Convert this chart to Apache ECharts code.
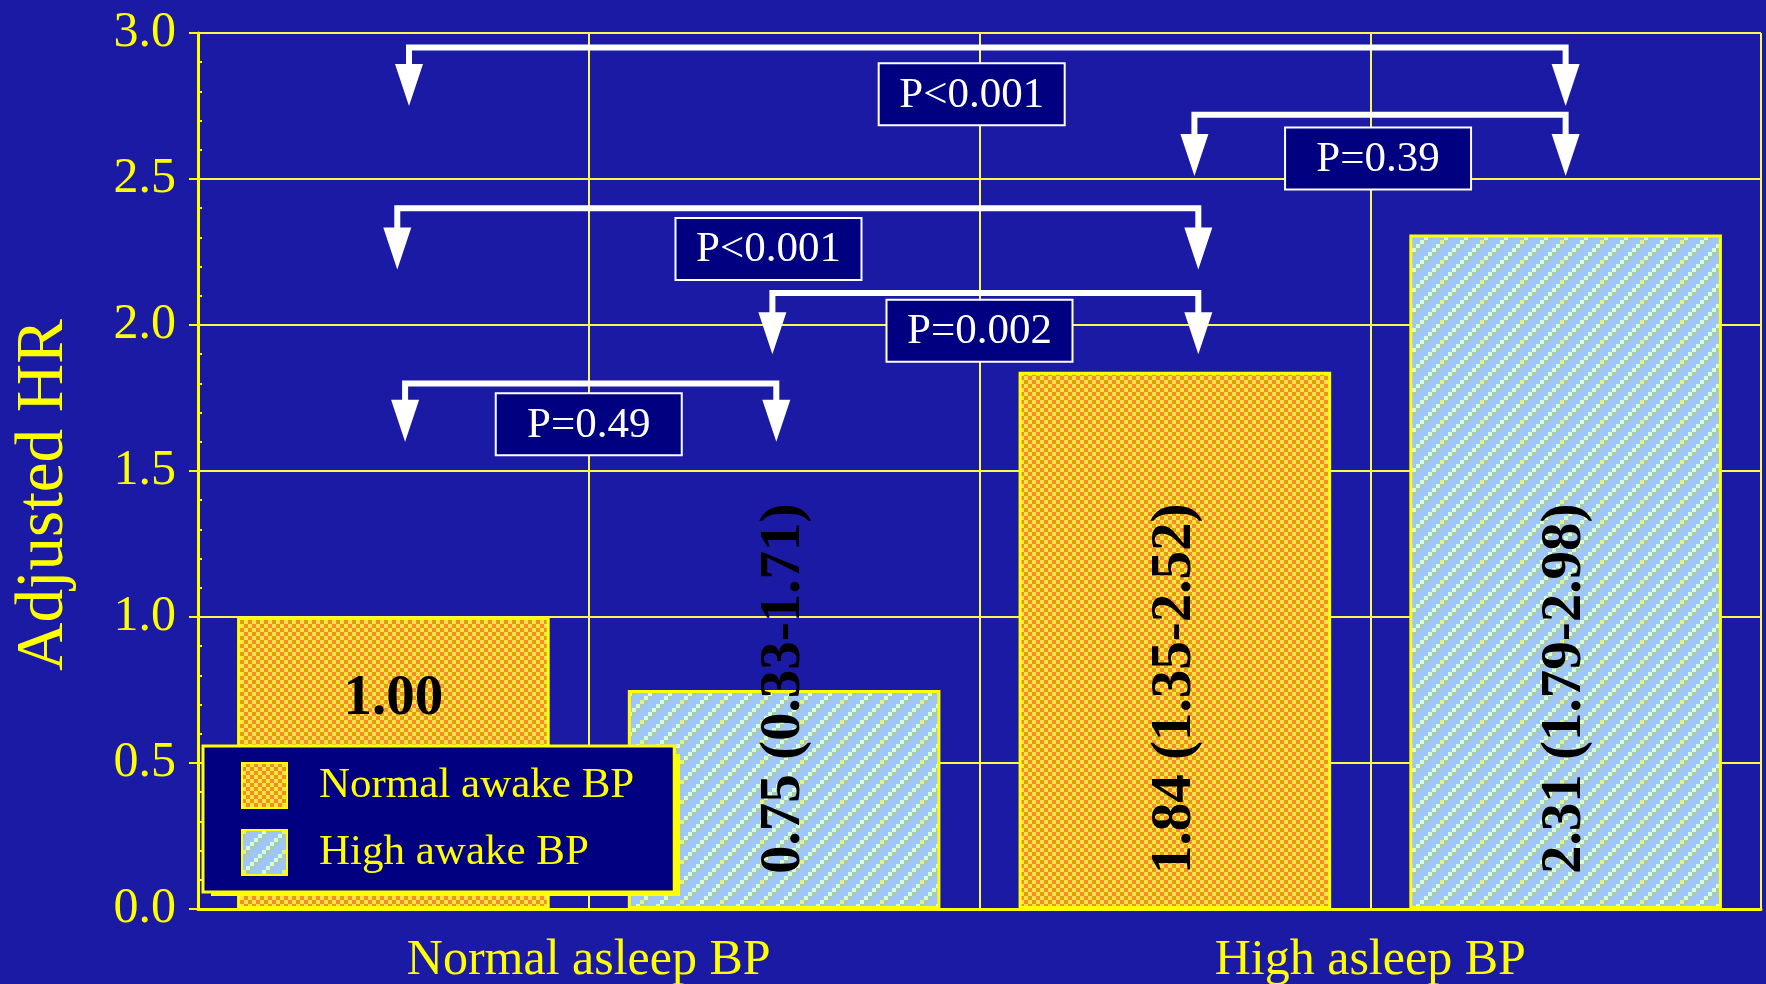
<!DOCTYPE html>
<html>
<head>
<meta charset="utf-8">
<title>Adjusted HR</title>
<script src="https://cdn.jsdelivr.net/npm/echarts@6/dist/echarts.min.js"></script>
<style>
  html, body { margin: 0; padding: 0; background: #1a1aa5; }
  #chart { width: 1766px; height: 984px; }
</style>
</head>
<body>
<div id="chart"></div>
<script>
// bar slots, left to right (asleep group / awake group)
const slots = ['Normal asleep, normal awake', 'Normal asleep, high awake', 'High asleep, normal awake', 'High asleep, high awake'];
const asleepGroups = ['Normal asleep BP', 'High asleep BP'];
const seriesNames = ['Normal awake BP', 'High awake BP'];
const normalAwakeHR = [1.00, '-', 1.84, '-'];
const highAwakeHR = ['-', 0.75, '-', 2.31];
const ciText = ['', '0.33-1.71', '1.35-2.52', '1.79-2.98'];

// comparison brackets: x on the 0..4 slot scale, y in HR units
const pText  = ['P<0.001', 'P=0.39', 'P<0.001', 'P=0.002', 'P=0.49'];
const pFromX = [0.54, 2.55, 0.51, 1.47, 0.53];
const pToX   = [3.50, 3.50, 2.56, 2.56, 1.48];
const pLineY = [2.95, 2.72, 2.40, 2.11, 1.80];
const pTipY  = [2.75, 2.51, 2.19, 1.90, 1.60];
const pBoxX  = [1.98, 3.02, 1.46, 2.00, 1.00];
const pBoxY  = [2.79, 2.57, 2.26, 1.98, 1.66];

const FONT = "'Liberation Serif', 'Times New Roman', serif";
const YELLOW = '#ffff00';
const GRIDLINE = '#f8f850';

// checkered orange fill with faint diagonal banding
function orangeTile() {
  const c = document.createElement('canvas');
  c.width = 16; c.height = 16;
  const g = c.getContext('2d');
  const Y = '#ffe345', band = ['#f6a11f', '#e39b10', '#f6a11f', '#f88a2c'];
  for (let r = 0; r < 4; r++) {
    for (let k = 0; k < 4; k++) {
      g.fillStyle = (k + r) % 2 === 0 ? Y : band[(k - r + 4) % 4];
      g.fillRect(k * 4, r * 4, 4, 4);
    }
  }
  return c;
}

// light blue with diagonal stripes
function blueTile() {
  const c = document.createElement('canvas');
  c.width = 40; c.height = 40;
  const g = c.getContext('2d');
  g.fillStyle = '#9ec6fa';
  g.fillRect(0, 0, 40, 40);
  for (let r = 0; r < 10; r++) {
    for (let k = 0; k < 10; k++) {
      const d = (k + r) % 5;
      if (d > 1) continue;
      let col = d === 0 ? '#d6ffd2' : '#aac8b8';
      if (k % 10 === 0 && d === 0) col = '#e2f27c';
      g.fillStyle = col;
      g.fillRect(k * 4, r * 4, 4, 4);
    }
  }
  return c;
}

const myChart = echarts.init(document.getElementById('chart'));

const barLabel = {
  show: true,
  position: 'insideBottom',
  distance: 35,
  rotate: 90,
  align: 'left',
  verticalAlign: 'middle',
  color: '#000',
  fontSize: 57,
  fontWeight: 'bold',
  fontFamily: FONT,
  formatter: function (p) {
    const ci = ciText[p.dataIndex];
    const v = Number(p.value).toFixed(2);
    return ci ? v + ' (' + ci + ')' : v;
  }
};

// the reference bar gets a plain horizontal label
const refLabel = { rotate: 0, position: 'insideTop', distance: 54, align: 'center', verticalAlign: 'top' };

function toItems(arr) {
  return arr.map(function (v, i) {
    if (v === '-' || ciText[i]) return v;
    return { value: v, label: refLabel };
  });
}

const option = {
  backgroundColor: '#1a1aa5',
  animation: false,
  grid: { left: 198, right: 5, top: 33, bottom: 75, outerBoundsMode: 'none' },
  graphic: [
    {
      // solid yellow drop shadow behind the legend box
      type: 'rect',
      left: 211,
      top: 754,
      z: 3,
      shape: { width: 469, height: 142 },
      style: { fill: YELLOW }
    }
  ],
  legend: {
    data: seriesNames,
    orient: 'vertical',
    left: 203,
    top: 746,
    z: 5,
    padding: [16, 40, 16, 38],
    itemGap: 20,
    itemWidth: 45,
    itemHeight: 45,
    icon: 'rect',
    backgroundColor: '#000080',
    borderColor: YELLOW,
    borderWidth: 3,
    textStyle: { color: YELLOW, fontSize: 43, fontFamily: FONT, padding: [0, 0, 0, 27] }
  },
  xAxis: [
    {
      type: 'category',
      data: slots,
      position: 'bottom',
      axisLine: { lineStyle: { color: YELLOW, width: 3 } },
      axisTick: { show: false },
      axisLabel: { show: false },
      splitLine: { show: false }
    },
    {
      type: 'category',
      data: asleepGroups,
      position: 'bottom',
      axisLine: { show: false },
      axisTick: { show: false },
      axisLabel: { color: YELLOW, fontSize: 50, fontFamily: FONT, margin: 27 },
      splitLine: { show: false }
    },
    {
      // helper axis: slot grid lines, minor ticks and bracket coordinates
      type: 'value',
      min: 0,
      max: 4,
      interval: 1,
      position: 'bottom',
      axisLine: { show: false },
      axisTick: { show: false, inside: true },
      minorTick: { show: true, splitNumber: 5, length: 5, lineStyle: { color: YELLOW, width: 2 } },
      axisLabel: { show: false },
      splitLine: { show: true, lineStyle: { color: GRIDLINE, width: 2 } }
    }
  ],
  yAxis: [
    {
      type: 'value',
      min: 0,
      max: 3,
      interval: 0.5,
      name: 'Adjusted HR',
      nameLocation: 'middle',
      nameGap: 120,
      nameTextStyle: { color: YELLOW, fontSize: 67, fontFamily: FONT, padding: [0, 48, 0, 0] },
      axisLine: { show: true, lineStyle: { color: YELLOW, width: 3 } },
      axisTick: { show: true, length: 9, lineStyle: { color: YELLOW, width: 2 } },
      axisLabel: {
        color: YELLOW, fontSize: 50, fontFamily: FONT, margin: 22, padding: [0, 0, 12, 0],
        formatter: function (v) { return v.toFixed(1); }
      },
      splitLine: { lineStyle: { color: GRIDLINE, width: 2 } }
    },
    {
      // minor ticks pointing into the plot
      type: 'value',
      min: 0,
      max: 3,
      interval: 0.5,
      position: 'left',
      axisLine: { show: false },
      axisTick: { show: false, inside: true },
      minorTick: { show: true, splitNumber: 5, length: 4, lineStyle: { color: YELLOW, width: 2 } },
      axisLabel: { show: false },
      splitLine: { show: false }
    }
  ],
  series: [
    {
      name: seriesNames[0],
      type: 'bar',
      xAxisIndex: 0,
      yAxisIndex: 0,
      barWidth: '80%',
      barGap: '-100%',
      data: toItems(normalAwakeHR),
      itemStyle: { color: { image: orangeTile(), repeat: 'repeat' }, borderColor: YELLOW, borderWidth: 3 },
      label: barLabel
    },
    {
      name: seriesNames[1],
      type: 'bar',
      xAxisIndex: 0,
      yAxisIndex: 0,
      barWidth: '80%',
      barGap: '-100%',
      data: toItems(highAwakeHR),
      itemStyle: { color: { image: blueTile(), repeat: 'repeat' }, borderColor: YELLOW, borderWidth: 3 },
      label: barLabel
    },
    {
      name: 'comparisons',
      type: 'custom',
      xAxisIndex: 2,
      yAxisIndex: 0,
      z: 10,
      silent: true,
      clip: false,
      data: pText.map(function (t, i) {
        return [pFromX[i], pLineY[i], pToX[i], pTipY[i], pBoxX[i], pBoxY[i]];
      }),
      renderItem: function (params, api) {
        const i = params.dataIndex;
        const l = api.coord([api.value(0), api.value(1)]);
        const r = api.coord([api.value(2), api.value(1)]);
        const tipY = api.coord([0, api.value(3)])[1];
        const box = api.coord([api.value(4), api.value(5)]);
        const headH = 42, headW = 28, boxW = 186, boxH = 62;
        const stemEnd = tipY - headH + 2;
        function head(x) {
          return {
            type: 'polygon',
            shape: { points: [[x - headW / 2, tipY - headH], [x + headW / 2, tipY - headH], [x, tipY]] },
            style: { fill: '#fff' }
          };
        }
        return {
          type: 'group',
          children: [
            {
              type: 'polyline',
              shape: { points: [[l[0], stemEnd], [l[0], l[1]], [r[0], r[1]], [r[0], stemEnd]] },
              style: { stroke: '#fff', lineWidth: 6, fill: null, lineJoin: 'miter' }
            },
            head(l[0]),
            head(r[0]),
            {
              type: 'rect',
              shape: { x: box[0] - boxW / 2, y: box[1] - boxH / 2, width: boxW, height: boxH },
              style: { fill: '#000080', stroke: '#fff', lineWidth: 2 }
            },
            {
              type: 'text',
              x: box[0],
              y: box[1] + 1,
              style: {
                text: pText[i],
                align: 'center',
                verticalAlign: 'middle',
                fill: '#fff',
                font: '43px ' + FONT
              }
            }
          ]
        };
      }
    }
  ]
};

myChart.setOption(option);
</script>
</body>
</html>
